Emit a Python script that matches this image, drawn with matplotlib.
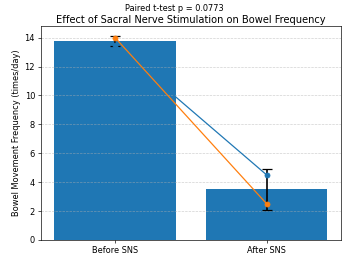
import numpy as np
import matplotlib
matplotlib.use("Agg")
import matplotlib.pyplot as plt

labels = ["Before SNS", "After SNS"]
patient_1 = [13.5, 4.5]
patient_2 = [14.0, 2.5]
p_value = 0.0773

data = np.array([patient_1, patient_2])
means = data.mean(axis=0)
stds = data.std(axis=0, ddof=1)

DPI = 59.5
fig, ax = plt.subplots(figsize=(349 / DPI, 260 / DPI), dpi=DPI)
x = np.arange(len(labels))
ax.bar(x, means, yerr=stds, capsize=6, color="C0",
       error_kw=dict(ecolor="black", elinewidth=2, capthick=1.5))
ax.plot(x, patient_1, marker="o", color="C0")
ax.plot(x, patient_2, marker="o", color="C1")

ax.set_xticks(x)
ax.set_xticklabels(labels)
ax.set_ylabel("Bowel Movement Frequency (times/day)")
ax.set_title("Effect of Sacral Nerve Stimulation on Bowel Frequency", pad=4)
ax.grid(axis="y", linestyle="--", alpha=0.6)
fig.text(0.5, 0.968, "Paired t-test p = %.4f" % p_value, ha="center", va="center", fontsize=10)

fig.subplots_adjust(left=0.117, right=0.977, top=0.9, bottom=0.077)
fig.savefig("out.png", dpi=DPI)
